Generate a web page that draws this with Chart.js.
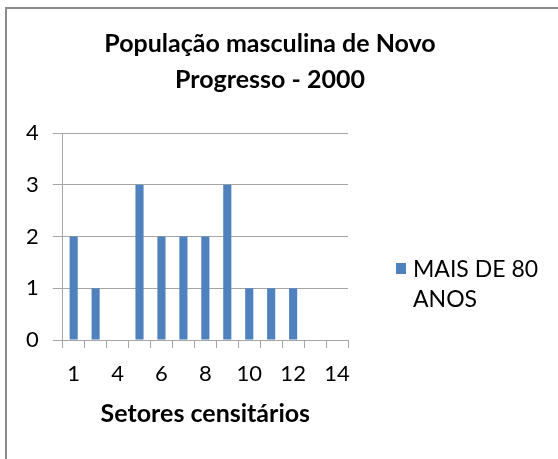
<!DOCTYPE html>
<html lang="pt">
<head>
  <meta charset="UTF-8">
  <title>População masculina de Novo Progresso - 2000</title>
  <script src="https://cdn.jsdelivr.net/npm/chart.js"></script>
  <style>
    body { margin: 0; background: #fff; font-family: Lato, 'Liberation Sans', sans-serif; }
    #frame { position: absolute; left: 5px; top: 7px; width: 600px; height: 500px;
             border-left: 2px solid #8c8c8c; border-top: 2px solid #8c8c8c; }
    #wrap { position: absolute; left: 8px; top: 9px; width: 524px; height: 450px; }
    #legend { position: absolute; left: 396px; top: 253px; display: flex; align-items: flex-start;
              font-size: 23px; line-height: 30px; color: #000; }
    #legend .box { width: 10px; height: 11px; margin-top: 10px; margin-right: 7px; }
    #legend .txt { width: 135px; }
  </style>
</head>
<body>
  <div id="frame"></div>
  <div id="wrap"><canvas id="chart"></canvas></div>
  <div id="legend"></div>

  <script>
    const categories = ['1', '3', '4', '5', '6', '7', '8', '9', '10', '11', '12', '13', '14'];
    const values = [2, 1, 0, 3, 2, 2, 2, 3, 1, 1, 1, 0, 0];
    const seriesName = 'MAIS DE 80 ANOS';
    const yMin = 0, yMax = 4, yStep = 1;
    const barColor = '#4f81bd';
    const gridColor = '#a6a6a6';

    const fontFamily = "Lato, 'Liberation Sans', sans-serif";
    Chart.defaults.color = '#000';
    Chart.defaults.font.family = fontFamily;

    new Chart(document.getElementById('chart'), {
      type: 'bar',
      data: {
        labels: categories,
        datasets: [{
          label: seriesName,
          data: values,
          backgroundColor: barColor,
          categoryPercentage: 1,
          barPercentage: 0.37
        }]
      },
      options: {
        responsive: true,
        maintainAspectRatio: false,
        animation: false,
        layout: { padding: { bottom: 28 } },
        plugins: {
          legend: { display: false },
          tooltip: { enabled: false },
          title: {
            display: true,
            text: ['População masculina de Novo', 'Progresso - 2000'],
            font: { size: 25, weight: 'bold', lineHeight: '36px' },
            padding: { top: 17, bottom: 35 }
          }
        },
        scales: {
          x: {
            grid: { drawOnChartArea: false, color: gridColor, tickLength: 8, offset: true },
            border: { color: gridColor },
            ticks: {
              autoSkip: false,
              maxRotation: 0,
              padding: 13,
              font: { size: 22, lineHeight: '25px' },
              callback: (v, i) => (i % 2 === 0 ? categories[i] : '')
            },
            title: {
              display: true,
              text: 'Setores censitários',
              font: { size: 25, weight: 'bold', lineHeight: '30px' },
              padding: { top: 0, bottom: 2 }
            }
          },
          y: {
            min: yMin,
            max: yMax,
            grid: { color: gridColor, tickLength: 10 },
            border: { color: gridColor },
            ticks: { stepSize: yStep, padding: 14, font: { size: 22 } },
            afterFit: s => { s.width = 54.7; }
          },
          // empty axis that reserves room for the legend on the right
          side: {
            type: 'linear',
            position: 'right',
            grid: { display: false },
            border: { display: false },
            ticks: { display: false },
            afterFit: s => { s.width = 184; }
          }
        }
      }
    });

    const legend = document.getElementById('legend');
    legend.innerHTML = '<div class="box" style="background:' + barColor + '"></div>' +
      '<div class="txt">' + seriesName + '</div>';
  </script>
</body>
</html>
